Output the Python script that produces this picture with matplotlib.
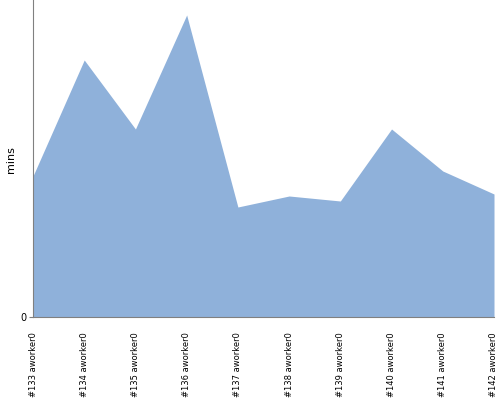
import matplotlib.pyplot as plt

# build labels and time per build (mins)
builds = ['#133 aworker0', '#134 aworker0', '#135 aworker0', '#136 aworker0',
          '#137 aworker0', '#138 aworker0', '#139 aworker0', '#140 aworker0',
          '#141 aworker0', '#142 aworker0']
mins = [141, 257, 188, 302, 110, 121, 116, 188, 146, 123]

fig = plt.figure(figsize=(5, 4), dpi=100)
ax = fig.add_axes([0.066, 0.2075, 0.922, 0.7925])

x = list(range(len(builds)))
ax.fill_between(x, mins, 0, color='#8fb1da', linewidth=0)

ax.set_xlim(0, len(builds) - 1)
ax.set_ylim(0, 317)
ax.set_xticks(x)
ax.set_xticklabels(builds, rotation=90, fontsize=6, va='top')
ax.set_yticks([0])
ax.set_yticklabels(['0'], fontsize=7)
ax.tick_params(axis='x', length=0, pad=11)
ax.tick_params(axis='y', length=3, color='#808080', pad=2)
fig.text(0.022, 0.6, 'mins', rotation=90, fontsize=8, ha='center', va='center')

for s in ['top', 'right']:
    ax.spines[s].set_visible(False)
for s in ['left', 'bottom']:
    ax.spines[s].set_color('#808080')
    ax.spines[s].set_linewidth(0.8)

fig.savefig('out.png', dpi=100)
